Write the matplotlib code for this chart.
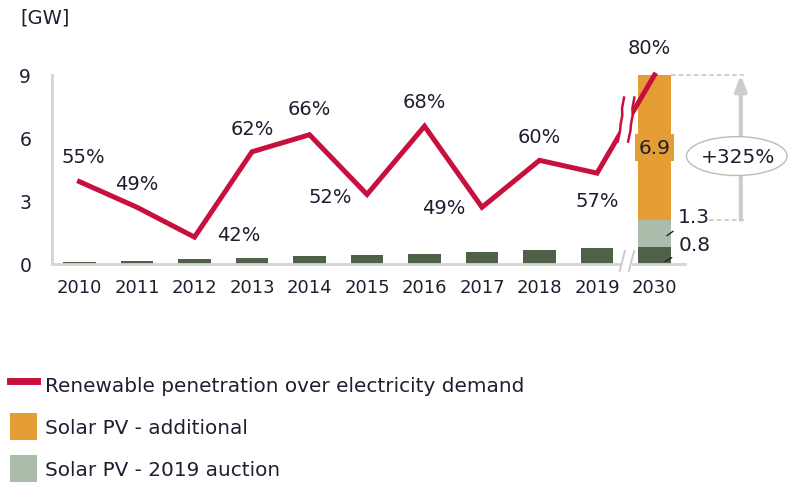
import matplotlib
matplotlib.use("Agg")
import matplotlib.pyplot as plt
from matplotlib.patches import Patch, Ellipse, Polygon
from matplotlib.lines import Line2D

# data
years = ["2010", "2011", "2012", "2013", "2014", "2015", "2016", "2017", "2018", "2019", "2030"]
solar_installed = [0.10, 0.13, 0.22, 0.27, 0.38, 0.41, 0.46, 0.57, 0.65, 0.78, 0.8]
solar_auction_2030 = 1.3
solar_additional_2030 = 6.9
penetration = [55, 49, 42, 62, 66, 52, 68, 49, 60, 57, 80]
growth_label = "+325%"
yticks = [0, 3, 6, 9]

RED = "#C8103E"
ORANGE = "#E49E35"
LIGHT = "#ABBDAA"
DARK = "#4F6148"
GREY = "#D4D4D4"
TXT = "#1E1E30"

plt.rcParams["font.family"] = "DejaVu Sans"

fig = plt.figure(figsize=(7.9, 4.85), dpi=100)
ax = fig.add_axes([52 / 790, 1 - 265 / 485, 633 / 790, 189 / 485])
x = list(range(len(years)))
bw = 0.57

ax.bar(x, solar_installed, width=bw, color=DARK, zorder=2)
last = x[-1]
ax.bar(last, solar_auction_2030, bottom=solar_installed[-1], width=bw, color=LIGHT, zorder=2)
base = solar_installed[-1] + solar_auction_2030
top = base + solar_additional_2030
ax.bar(last, solar_additional_2030, bottom=base, width=bw, color=ORANGE, zorder=2)

ax.set_xlim(-0.478, 10.53)
ax.set_ylim(0, 9)
ax.set_xticks(x)
ax.set_xticklabels(years)
ax.set_yticks(yticks)
ax.tick_params(axis="x", length=0, pad=10, labelsize=13, labelcolor=TXT)
ax.tick_params(axis="y", length=0, pad=15, labelsize=13.5, labelcolor=TXT)
for s in ["top", "right"]:
    ax.spines[s].set_visible(False)
for s in ["left", "bottom"]:
    ax.spines[s].set_color(GREY)
    ax.spines[s].set_linewidth(2)

# bar value labels for 2030
ax.text(last, base + solar_additional_2030 / 2, f"{solar_additional_2030:.1f}", ha="center", va="center",
        fontsize=14.5, color=TXT, zorder=4,
        bbox=dict(boxstyle="square,pad=0.2", fc=ORANGE, ec="none"))
ax.annotate(f"{solar_auction_2030:.1f}", xy=(last + bw / 2 - 0.07, solar_installed[-1] + solar_auction_2030 / 2 - 0.1),
            xytext=(11, 19), textcoords="offset pixels", ha="left", va="center", fontsize=14.5, color=TXT,
            arrowprops=dict(arrowstyle="-", color=TXT, lw=1, shrinkA=3, shrinkB=0), annotation_clip=False)
ax.annotate(f"{solar_installed[-1]:.1f}", xy=(last + bw / 2 - 0.1, 0.12),
            xytext=(13, 17), textcoords="offset pixels", ha="left", va="center", fontsize=14.5, color=TXT,
            arrowprops=dict(arrowstyle="-", color=TXT, lw=1, shrinkA=3, shrinkB=0), annotation_clip=False)

# axis break on x axis
for bx in [9.44, 9.6]:
    ax.plot([bx - 0.045, bx + 0.045], [-0.33, 0.62], color="#C8C8C8", lw=1.3, clip_on=False, zorder=5)
ax.plot([9.47, 9.57], [0, 0], color="white", lw=3, clip_on=False, zorder=4)

# growth annotation
ax.plot([last + bw / 2, 11.57], [top, top], color="#C4C4C4", lw=1.1, ls=(0, (3, 2)), clip_on=False)
ax.plot([10.95, 11.57], [base, base], color="#C4C4C4", lw=1.1, ls=(0, (3, 2)), clip_on=False)
ax.annotate("", xy=(11.5, top), xytext=(11.5, base),
            arrowprops=dict(arrowstyle="-|>,head_width=0.35,head_length=0.9", color="#CCCCCC", lw=3,
                            shrinkA=0, shrinkB=0), annotation_clip=False)
ell = Ellipse((11.43, 5.14), 1.75, 1.85, fc="white", ec="#BBBBBB", lw=1, clip_on=False, zorder=5)
ax.add_patch(ell)
ax.text(11.46, 5.14, growth_label, ha="center", va="center", fontsize=14.5, color=TXT, zorder=6, clip_on=False)

# penetration line on its own scale
ax2 = ax.twinx()
ax2.set_ylim(35.7, 80)
ax2.axis("off")
ax2.plot(x, penetration, color=RED, lw=3.6, solid_joinstyle="miter", clip_on=False, zorder=3)

offsets = [(4, 25), (0, 24), (44, 3), (0, 23), (0, 26), (-37, -2), (0, 25), (-38, 0), (0, 24), (0, -27), (-5, 28)]
for xi, p, off in zip(x, penetration, offsets):
    ax2.annotate(f"{p}%", xy=(xi, p), xytext=off, textcoords="offset pixels", ha="center", va="center",
                 fontsize=14, color=TXT, annotation_clip=False)

# wavy break marks on the line
wave = [(0.0, 5.1), (-0.035, 2.6), (-0.03, 1.0), (-0.06, -1.2), (-0.07, -2.8), (-0.11, -5.2)]
ym = 69.6
marks = []
for bx in [9.47, 9.65]:
    marks.append([(bx + dx, ym + dy) for dx, dy in wave])
gap = Polygon(marks[0] + marks[1][::-1], closed=True, fc="white", ec="none", zorder=4, clip_on=False)
ax2.add_patch(gap)
for m in marks:
    ax2.plot([p[0] for p in m], [p[1] for p in m], color=RED, lw=1.8, zorder=5, clip_on=False)

fig.text(20 / 790, 1 - 18 / 485, "[GW]", fontsize=14, color=TXT, ha="left", va="center")

handles = [Line2D([0], [0], color=RED, lw=5),
           Patch(fc=ORANGE, ec="none"),
           Patch(fc=LIGHT, ec="none")]
labels = ["Renewable penetration over electricity demand", "Solar PV - additional", "Solar PV - 2019 auction"]
fig.legend(handles, labels, loc="upper left", bbox_to_anchor=(10 / 790, 1 - 372 / 485), frameon=False,
           fontsize=14.4, handlelength=1.35, handleheight=1.7, handletextpad=0.4, labelspacing=0.75,
           borderpad=0, borderaxespad=0, labelcolor=TXT)

fig.savefig("out.png", dpi=100)
